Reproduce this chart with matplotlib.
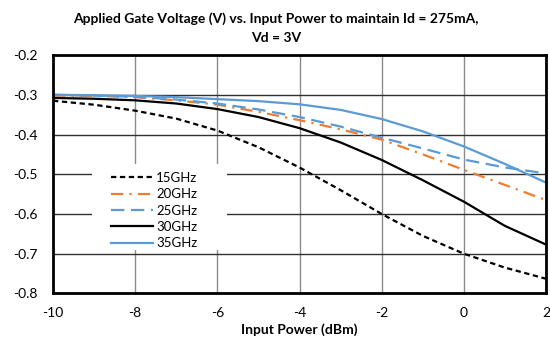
import matplotlib
matplotlib.use("Agg")
import matplotlib.pyplot as plt
from matplotlib.patches import Rectangle

plt.rcParams['font.family'] = ['Lato', 'DejaVu Sans']

# Input power sweep (dBm)
pin = [-10, -9, -8, -7, -6, -5, -4, -3, -2, -1, 0, 1, 2]

# Gate voltage (V) needed to hold Id = 275 mA at each frequency
vg_15 = [-0.315, -0.325, -0.340, -0.360, -0.390, -0.432, -0.483, -0.540, -0.600, -0.655, -0.700, -0.735, -0.763]
vg_20 = [-0.302, -0.303, -0.306, -0.314, -0.325, -0.343, -0.364, -0.387, -0.413, -0.450, -0.489, -0.527, -0.565]
vg_25 = [-0.300, -0.302, -0.305, -0.312, -0.322, -0.337, -0.356, -0.380, -0.408, -0.435, -0.463, -0.483, -0.498]
vg_30 = [-0.308, -0.310, -0.314, -0.322, -0.336, -0.356, -0.384, -0.420, -0.464, -0.515, -0.569, -0.630, -0.677]
vg_35 = [-0.300, -0.301, -0.303, -0.306, -0.311, -0.316, -0.324, -0.338, -0.361, -0.392, -0.430, -0.474, -0.521]

labels = ["15GHz", "20GHz", "25GHz", "30GHz", "35GHz"]
x_ticks = [-10, -8, -6, -4, -2, 0, 2]
y_ticks = [-0.2, -0.3, -0.4, -0.5, -0.6, -0.7, -0.8]

fig = plt.figure(figsize=(5.5, 3.44), dpi=100)
ax = fig.add_axes([0.0964, 0.147, 0.8963, 0.693])

orange = "#ED7D31"
blue = "#5B9BD5"
lw = 1.6
ax.plot(pin, vg_15, color="black", lw=lw, dashes=(2.4, 1.6), label=labels[0])
ax.plot(pin, vg_20, color=orange, lw=lw, dashes=(5.5, 2.8, 1, 2.8), label=labels[1])
ax.plot(pin, vg_25, color=blue, lw=lw, dashes=(6, 3), label=labels[2])
ax.plot(pin, vg_30, color="black", lw=lw, label=labels[3])
ax.plot(pin, vg_35, color=blue, lw=lw, label=labels[4])

ax.set_xlim(-10, 2)
ax.set_ylim(-0.8, -0.2)
ax.set_xticks(x_ticks)
ax.set_yticks(y_ticks)
ax.set_xticklabels([str(t) for t in x_ticks])
ax.set_yticklabels([f"{t:.1f}" for t in y_ticks])
ax.tick_params(length=0, labelsize=10)
ax.tick_params(axis="x", pad=10)
ax.tick_params(axis="y", pad=11)

ax.yaxis.grid(True, color="#303030", lw=1.0)
ax.xaxis.grid(True, color="#8c8c8c", lw=1.0)
ax.set_axisbelow(True)

for side in ("left", "bottom", "right", "top"):
    ax.spines[side].set_linewidth(2.0)
    ax.spines[side].set_color("black")

ax.set_xlabel("Input Power (dBm)", fontsize=10, fontweight="bold", labelpad=3)
fig.text(0.502, 0.946, "Applied Gate Voltage (V) vs. Input Power to maintain Id = 275mA,",
         ha="center", va="center", fontsize=10, fontweight="bold")
fig.text(0.502, 0.889, "Vd = 3V", ha="center", va="center", fontsize=10, fontweight="bold")

# white backing behind the legend, hiding the gridlines there
ax.add_patch(Rectangle((-9.05, -0.69), 3.28, 0.215, transform=ax.transData,
                       facecolor="white", edgecolor="none", zorder=1))

leg = ax.legend(loc="upper left", bbox_to_anchor=(0.117, 0.51), frameon=False,
                fontsize=9.5, handlelength=3.2, handletextpad=0.25, labelspacing=0.33,
                borderpad=0, borderaxespad=0)

fig.savefig("out.png", dpi=100)
